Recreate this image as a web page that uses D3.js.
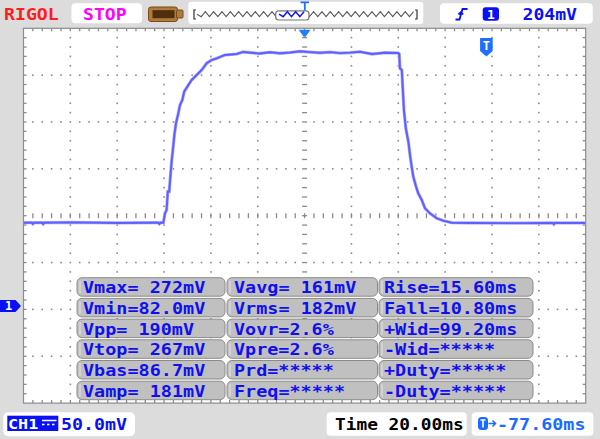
<!DOCTYPE html>
<html><head><meta charset="utf-8">
<script src="https://cdnjs.cloudflare.com/ajax/libs/d3/7.8.5/d3.min.js"></script>
<style>html,body{margin:0;padding:0;background:#dcdcdc;}svg{display:block}</style>
</head><body>
<svg id="c" width="600" height="439"></svg>
<script>
// ---------- DATA ----------
// time in ms from the left edge of the screen, voltage in mV (CH1)
const traceTime = [0,3.5,4.0,4.5,8.0,8.4,8.8,20,40,55,57.5,58.0,58.5,59.7,60.4,61.1,61.6,62.2,62.8,63.3,63.9,64.4,65.1,66.1,66.8,67.8,68.6,70.4,71.8,73.9,76.1,78.2,80.3,82.5,86.0,91.0,93.8,99.6,101.0,105.2,109.5,113.8,118.0,122.3,126.6,130.8,135.1,139.4,143.6,148.8,154.3,159.9,160.4,160.7,161.5,161.9,162.4,163.2,164.3,165.0,165.7,166.4,167.6,168.5,170.0,171.4,173.5,176.4,179.2,182.8,190,210,226,226.4,226.8,240];
const traceVolt = [88.9,88.9,87.6,88.9,88.9,87.6,88.9,89.2,88.6,88.9,88.9,87.6,88.9,88.9,98.9,102.5,122.0,122.0,141.6,155.8,170.0,182.5,195.0,205.7,214.5,219.8,228.7,235.9,241.2,246.5,251.9,259.0,262.5,264.3,267.9,268.9,271.1,269.7,269.5,270.8,269.7,270.5,271.8,270.9,270.2,270.9,269.9,270.4,271.3,268.9,270.3,270.0,268.9,253.7,251.9,232.3,209.2,189.6,175.3,161.1,148.7,138.0,127.3,120.3,113.1,104.3,98.9,93.6,91.0,88.9,88.6,88.4,88.6,87.3,88.6,88.6];

const measCol1 = ["Vmax= 272mV","Vmin=82.0mV","Vpp= 190mV","Vtop= 267mV","Vbas=86.7mV","Vamp= 181mV"];
const measCol2 = ["Vavg= 161mV","Vrms= 182mV","Vovr=2.6%","Vpre=2.6%","Prd=*****","Freq=*****"];
const measCol3 = ["Rise=15.60ms","Fall=10.80ms","+Wid=99.20ms","-Wid=*****","+Duty=*****","-Duty=*****"];

const brandText = "RIGOL";
const statusText = "STOP";
const triggerLevelText = "204mV";
const triggerChannel = "1";
const channelName = "CH1";
const voltDivText = "50.0mV";
const timeDivText = "Time 20.00ms";
const triggerOffsetText = "-77.60ms";
const timePerDiv = 20;      // ms/div
const voltPerDiv = 50;      // mV/div
const triggerOffset = -77.60; // ms

// ---------- LAYOUT ----------
const gL = 23.5, gR = 585.7, gT = 28.3, gB = 403.1;
const nX = 12, nY = 8;
const dx = (gR - gL) / nX, dy = (gB - gT) / nY;
const groundDivs = 5.927; // divisions from top for 0 mV
const x = d3.scaleLinear().domain([0, nX * timePerDiv]).range([gL, gR]);
const y = d3.scaleLinear().domain([(groundDivs - nY) * voltPerDiv, groundDivs * voltPerDiv]).range([gB, gT]);

const svg = d3.select("#c");
const FONT = "'DejaVu Sans Mono', monospace";
function txt(g, px, py, s, color, adv, size) {
  return g.append("text").attr("x", px).attr("y", py).attr("fill", color)
    .attr("font-family", FONT).attr("font-weight", "bold").attr("font-size", size || 15)
    .attr("textLength", s.length * (adv || 11.25) - 1.5).attr("lengthAdjust", "spacingAndGlyphs").text(s);
}

svg.append("rect").attr("width", 600).attr("height", 439).attr("fill", "#dcdcdc");

// ---------- GRID ----------
const grid = svg.append("g");
grid.append("rect").attr("x", gL).attr("y", gT).attr("width", gR - gL).attr("height", gB - gT)
  .attr("fill", "#ffffff").attr("stroke", "#8c8c8c").attr("stroke-width", 1.2);
const sub = 5;
const dotC = "#8a8a8a";
for (let i = 1; i < nX; i++) {
  const gx = gL + i * dx;
  for (let k = 1; k < nY * sub; k++) {
    const gy = gT + k * dy / sub;
    if (i === nX / 2) grid.append("line").attr("x1", gx - 2.5).attr("x2", gx + 2.5).attr("y1", gy).attr("y2", gy).attr("stroke", dotC).attr("stroke-width", 1.3);
    else grid.append("rect").attr("x", gx - 0.8).attr("y", gy - 0.8).attr("width", 1.6).attr("height", 1.6).attr("fill", dotC);
  }
}
for (let j = 1; j < nY; j++) {
  const gy = gT + j * dy;
  for (let k = 1; k < nX * sub; k++) {
    const gx = gL + k * dx / sub;
    if (j === nY / 2) grid.append("line").attr("x1", gx).attr("x2", gx).attr("y1", gy - 2.5).attr("y2", gy + 2.5).attr("stroke", dotC).attr("stroke-width", 1.3);
    else if (k % sub !== 0) grid.append("rect").attr("x", gx - 0.8).attr("y", gy - 0.8).attr("width", 1.6).attr("height", 1.6).attr("fill", dotC);
  }
}
for (let k = 1; k < nX * sub; k++) {
  const gx = gL + k * dx / sub;
  grid.append("line").attr("x1", gx).attr("x2", gx).attr("y1", gT).attr("y2", gT + 3).attr("stroke", dotC).attr("stroke-width", 1.3);
  grid.append("line").attr("x1", gx).attr("x2", gx).attr("y1", gB - 3).attr("y2", gB).attr("stroke", dotC).attr("stroke-width", 1.3);
}
for (let k = 1; k < nY * sub; k++) {
  const gy = gT + k * dy / sub;
  grid.append("line").attr("x1", gL).attr("x2", gL + 3).attr("y1", gy).attr("y2", gy).attr("stroke", dotC).attr("stroke-width", 1.3);
  grid.append("line").attr("x1", gR - 3).attr("x2", gR).attr("y1", gy).attr("y2", gy).attr("stroke", dotC).attr("stroke-width", 1.3);
}

// ---------- TRACE ----------
svg.append("clipPath").attr("id", "clip").append("rect").attr("x", gL).attr("y", gT).attr("width", gR - gL).attr("height", gB - gT);
const pts = traceTime.map((t, i) => [t, traceVolt[i]]);
const line = d3.line().x(d => x(d[0])).y(d => y(d[1]));
svg.append("path").attr("d", line(pts)).attr("clip-path", "url(#clip)")
  .attr("fill", "none").attr("stroke", "#a9a9ff").attr("stroke-width", 3.2);
svg.append("path").attr("d", line(pts)).attr("clip-path", "url(#clip)")
  .attr("fill", "none").attr("stroke", "#5f5fff").attr("stroke-width", 1.9);

// ---------- MEASUREMENT TABLE ----------
const tbl = svg.append("g");
const cols = [[77, 225, 83, measCol1], [227, 377.5, 234, measCol2], [379, 533, 384, measCol3]];
for (let r = 0; r < 6; r++) {
  const ry = 277.7 + r * 20.7;
  cols.forEach(c => {
    tbl.append("rect").attr("x", c[0]).attr("y", ry).attr("width", c[1] - c[0]).attr("height", 18.5)
      .attr("rx", 5).attr("fill", "#c0c0c0").attr("stroke", "#8a8a8a").attr("stroke-width", 1);
    tbl.append("line").attr("x1", c[0] + 3).attr("x2", c[0] + 3).attr("y1", ry + 3).attr("y2", ry + 15.5)
      .attr("stroke", "#e6e6e6").attr("stroke-width", 1);
    txt(tbl, c[2], ry + 15.6, c[3][r], "#1010ee");
  });
}

// ---------- MARKERS ----------
const cx = x(nX * timePerDiv / 2);
svg.append("path").attr("d", `M${cx - 6},${gT + 1.5} H${cx + 6} L${cx + 1},${gT + 8.5} H${cx - 1} Z`).attr("fill", "#2080ff");
const tx = x(nX * timePerDiv / 2 - triggerOffset);
svg.append("path").attr("d", `M${tx - 6.3},38 H${tx + 6.3} V51 L${tx},56.5 L${tx - 6.3},51 Z`).attr("fill", "#1f6fff");
svg.append("text").attr("x", tx).attr("y", 50).attr("text-anchor", "middle").attr("fill", "#fff")
  .attr("font-family", FONT).attr("font-weight", "bold").attr("font-size", 12).text("T");
const gy0 = y(0);
svg.append("path").attr("d", `M0,${gy0 - 6} H15.5 L21,${gy0} L15.5,${gy0 + 6} H0 Z`).attr("fill", "#0a10f5");
svg.append("text").attr("x", 8.5).attr("y", gy0 + 4.5).attr("text-anchor", "middle").attr("fill", "#fff")
  .attr("font-family", FONT).attr("font-weight", "bold").attr("font-size", 12).text(triggerChannel);

// ---------- TOP BAR ----------
const topBar = svg.append("g");
txt(topBar, 4, 20, brandText, "#ff1c1c", 11.25, 16);
topBar.append("rect").attr("x", 71.5).attr("y", 3.3).attr("width", 70.5).attr("height", 20).attr("rx", 4).attr("fill", "#fff");
txt(topBar, 83, 20, statusText, "#ff00ff", 11.25, 16);
topBar.append("rect").attr("x", 148.5).attr("y", 7).attr("width", 29).attr("height", 14.5).attr("rx", 2.5).attr("fill", "#b07a3a").attr("stroke", "#7a4a18").attr("stroke-width", 1);
topBar.append("rect").attr("x", 176.5).attr("y", 10).attr("width", 6.5).attr("height", 8).attr("rx", 1).attr("fill", "#b07a3a").attr("stroke", "#7a4a18").attr("stroke-width", 1);
topBar.append("rect").attr("x", 152.5).attr("y", 10.2).attr("width", 22).attr("height", 8).attr("fill", "#4e2e0c");
topBar.append("rect").attr("x", 188.3).attr("y", 1.7).attr("width", 235).attr("height", 22.3).attr("rx", 3).attr("fill", "#fff");
function zig(x0, x1, col, sw) {
  const p = d3.path(); const per = 8.33; let up = false; p.moveTo(x0, 14.2);
  for (let xx = x0 + per / 2; xx <= x1; xx += per / 2) { p.lineTo(xx, up ? 11.7 : 16.7); up = !up; }
  topBar.append("path").attr("d", p.toString()).attr("fill", "none").attr("stroke", col).attr("stroke-width", sw);
}
zig(197, 414, "#5a5a5a", 1.1);
topBar.append("path").attr("d", "M196,10 H194 V19 H196 M415,10 H417 V19 H415").attr("fill", "none").attr("stroke", "#333").attr("stroke-width", 1.2);
topBar.append("rect").attr("x", 275.7).attr("y", 10.8).attr("width", 33.3).attr("height", 9.2).attr("rx", 3).attr("fill", "#fff").attr("stroke", "#777").attr("stroke-width", 1.2);
zig(279, 306, "#1515ff", 1.5);
topBar.append("path").attr("d", "M300.5,2.3 H309 M304.8,2.3 V10.5").attr("stroke", "#1f6fff").attr("stroke-width", 1.8);
topBar.append("rect").attr("x", 440).attr("y", 3.3).attr("width", 152.7).attr("height", 20.5).attr("rx", 4).attr("fill", "#fff");
topBar.append("path").attr("d", "M455.5,19.5 H459.5 L462.5,9 H467.5 M458.5,14.5 L461,12 L463.2,14.5").attr("fill", "none").attr("stroke", "#0a10f5").attr("stroke-width", 1.8);
topBar.append("rect").attr("x", 482.7).attr("y", 7.3).attr("width", 16.3).attr("height", 13.4).attr("rx", 3).attr("fill", "#0a10f5");
topBar.append("text").attr("x", 490.8).attr("y", 18.8).attr("text-anchor", "middle").attr("fill", "#fff")
  .attr("font-family", FONT).attr("font-weight", "bold").attr("font-size", 13).text(triggerChannel);
txt(topBar, 522.5, 20, triggerLevelText, "#0a10f5", 11.2, 16);

// ---------- BOTTOM BAR ----------
const bot = svg.append("g");
bot.append("rect").attr("x", 3.3).attr("y", 412.3).attr("width", 131.7).attr("height", 24).attr("rx", 5).attr("fill", "#fff");
bot.append("rect").attr("x", 7.3).attr("y", 415.7).attr("width", 51).attr("height", 15.3).attr("fill", "#0a10f5");
txt(bot, 8, 429, channelName, "#fff", 10.6, 14);
bot.append("path").attr("d", "M42,420.5 H56.5 M42,424.5 H44.5 M47,424.5 H49.5 M52,424.5 H54.5").attr("stroke", "#fff").attr("stroke-width", 1.6);
txt(bot, 61, 430, voltDivText, "#0a10f5", 11.25);
bot.append("rect").attr("x", 326.7).attr("y", 412.3).attr("width", 140).attr("height", 23.4).attr("rx", 4).attr("fill", "#fff");
txt(bot, 335, 430, timeDivText, "#000", 10.85);
bot.append("rect").attr("x", 471.7).attr("y", 412.3).attr("width", 121.6).attr("height", 23.4).attr("rx", 4).attr("fill", "#fff");
bot.append("rect").attr("x", 478).attr("y", 417).attr("width", 10).attr("height", 13).attr("rx", 3.5).attr("fill", "#1a6cff");
bot.append("path").attr("d", "M480.5,420 H485.5 M483,420 V427.5").attr("stroke", "#fff").attr("stroke-width", 1.6);
bot.append("path").attr("d", "M488.5,423.5 H495.5 M492.5,420.5 L495.5,423.5 L492.5,426.5").attr("fill", "none").attr("stroke", "#1a6cff").attr("stroke-width", 1.5);
txt(bot, 497, 430, triggerOffsetText, "#1a6cff", 11.25);
</script>
</body></html>
